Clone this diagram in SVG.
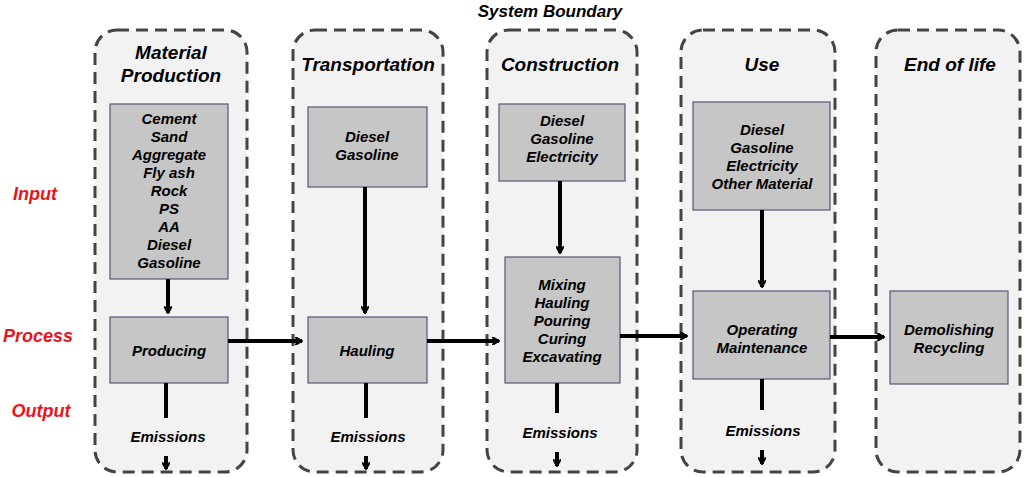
<svg xmlns="http://www.w3.org/2000/svg" width="1024" height="477" viewBox="0 0 1024 477">
<defs>
<marker id="ah" markerWidth="8" markerHeight="8" refX="7" refY="4" orient="auto" markerUnits="userSpaceOnUse"><path d="M0,0 L7,4 L0,8" fill="none" stroke="#000" stroke-width="2"/></marker>
<style>
.col{fill:#f2f2f2;stroke:#444;stroke-width:3;stroke-dasharray:12,7}
.box{fill:#c6c6c6;stroke:#55557a;stroke-width:1.2}
text{font-family:"Liberation Sans",Arial,sans-serif;font-weight:bold;font-style:italic;text-anchor:middle}
.t{font-size:15px}
.h{font-size:19px}
.r{font-size:18px;fill:#e8141c}
.c line{stroke:#000;stroke-width:4}
</style>
</defs>
<rect width="1024" height="477" fill="#fff"/>
<text x="550" y="17" class="h" style="font-size:17px">System Boundary</text>
<text x="35" y="200" class="r">Input</text>
<text x="38" y="342" class="r">Process</text>
<text x="41" y="417" class="r">Output</text>
<rect class="col" x="95" y="30" width="152" height="442" rx="22"/>
<rect class="col" x="293" y="30" width="150" height="442" rx="22"/>
<rect class="col" x="487" y="30" width="150" height="442" rx="22"/>
<rect class="col" x="681" y="30" width="154" height="442" rx="22"/>
<rect class="col" x="876" y="30" width="144" height="442" rx="22"/>
<text x="171" y="59" class="h">Material</text>
<text x="171" y="82" class="h">Production</text>
<text x="368" y="71" class="h">Transportation</text>
<text x="560" y="71" class="h">Construction</text>
<text x="762" y="71" class="h">Use</text>
<text x="950" y="71" class="h">End of life</text>
<g id="n1"><rect class="box" x="110" y="104" width="118" height="175"/>
<text class="t" x="169" y="124">Cement</text><text class="t" x="169" y="142">Sand</text><text class="t" x="169" y="160">Aggregate</text><text class="t" x="169" y="178">Fly ash</text><text class="t" x="169" y="196">Rock</text><text class="t" x="169" y="214">PS</text><text class="t" x="169" y="232">AA</text><text class="t" x="169" y="250">Diesel</text><text class="t" x="169" y="268">Gasoline</text></g>
<g id="n2"><rect class="box" x="110" y="317" width="118" height="66"/><text class="t" x="169" y="356">Producing</text></g>
<g id="n3"><rect class="box" x="308" y="107" width="119" height="80"/><text class="t" x="367" y="142">Diesel</text><text class="t" x="367" y="160">Gasoline</text></g>
<g id="n4"><rect class="box" x="308" y="317" width="119" height="66"/><text class="t" x="367" y="356">Hauling</text></g>
<g id="n5"><rect class="box" x="499" y="104" width="126" height="77"/><text class="t" x="562" y="126">Diesel</text><text class="t" x="562" y="144">Gasoline</text><text class="t" x="562" y="162">Electricity</text></g>
<g id="n6"><rect class="box" x="505" y="257" width="115" height="126"/><text class="t" x="562" y="290">Mixing</text><text class="t" x="562" y="308">Hauling</text><text class="t" x="562" y="326">Pouring</text><text class="t" x="562" y="344">Curing</text><text class="t" x="562" y="362">Excavating</text></g>
<g id="n7"><rect class="box" x="693" y="102" width="137" height="108"/><text class="t" x="762" y="135">Diesel</text><text class="t" x="762" y="153">Gasoline</text><text class="t" x="762" y="171">Electricity</text><text class="t" x="762" y="189">Other Material</text></g>
<g id="n8"><rect class="box" x="693" y="291" width="137" height="88"/><text class="t" x="762" y="335">Operating</text><text class="t" x="762" y="353">Maintenance</text></g>
<g id="n9"><rect class="box" x="890" y="291" width="118" height="93"/><text class="t" x="949" y="335">Demolishing</text><text class="t" x="949" y="353">Recycling</text></g>
<g id="e1"><text class="t" x="168" y="442">Emissions</text></g>
<g id="e2"><text class="t" x="368" y="442">Emissions</text></g>
<g id="e3"><text class="t" x="560" y="438">Emissions</text></g>
<g id="e4"><text class="t" x="763" y="436">Emissions</text></g>
<g class="c">
<line x1="168" y1="279" x2="168" y2="313" marker-end="url(#ah)"/>
<line x1="365" y1="187" x2="365" y2="313" marker-end="url(#ah)"/>
<line x1="560" y1="181" x2="560" y2="253" marker-end="url(#ah)"/>
<line x1="762" y1="210" x2="762" y2="287" marker-end="url(#ah)"/>
<line x1="228" y1="341" x2="302" y2="341" marker-end="url(#ah)"/>
<line x1="427" y1="341" x2="499" y2="341" marker-end="url(#ah)"/>
<line x1="620" y1="336" x2="687" y2="336" marker-end="url(#ah)"/>
<line x1="830" y1="337" x2="884" y2="337" marker-end="url(#ah)"/>
<line x1="166" y1="383" x2="166" y2="418"/>
<line x1="366" y1="383" x2="366" y2="418"/>
<line x1="557" y1="383" x2="557" y2="413"/>
<line x1="762" y1="379" x2="762" y2="410"/>
<line x1="166" y1="456" x2="166" y2="469" marker-end="url(#ah)"/>
<line x1="366" y1="456" x2="366" y2="469" marker-end="url(#ah)"/>
<line x1="557" y1="452" x2="557" y2="466" marker-end="url(#ah)"/>
<line x1="762" y1="450" x2="762" y2="464" marker-end="url(#ah)"/>
</g>
</svg>
